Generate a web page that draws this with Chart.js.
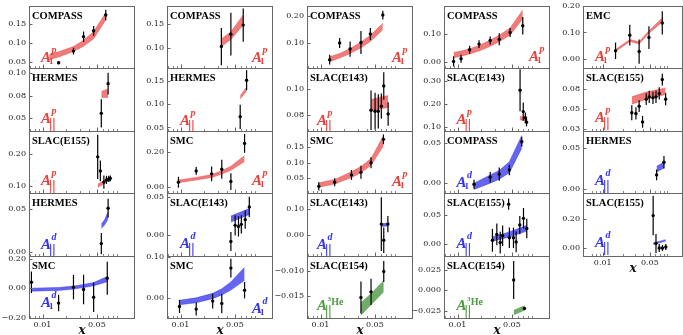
<!DOCTYPE html>
<html><head><meta charset="utf-8">
<script src="https://cdn.jsdelivr.net/npm/chart.js@4/dist/chart.umd.min.js"></script>
<style>
html,body{margin:0;padding:0;background:#fff;overflow:hidden}
#wrap{position:relative;width:683px;height:335px;overflow:hidden;background:#fff}
#wrap canvas{position:absolute}
</style>
</head><body><div id="wrap"></div>
<script>
// ---------- x axis ----------
const xTickVals = [0.01, 0.05];
const xTickLabels = ['0.01', '0.05'];
const xMinorVals = [0.007, 0.008, 0.009, 0.02, 0.03, 0.04, 0.06, 0.07, 0.08, 0.09];
const xTitle = 'x';
const xRangeMain = [0.0067, 0.15];
const xRangeLast = [0.0051, 0.15];

// ---------- column 1 ----------
const c1r1_x = [0.0161, 0.025, 0.0337, 0.0454, 0.065];
const c1r1_y = [0.047, 0.078, 0.116, 0.132, 0.174];
const c1r1_err = [0.004, 0.009, 0.014, 0.013, 0.014];
const c1r1_bx = [0.0122, 0.0161, 0.025, 0.0337, 0.0454, 0.065];
const c1r1_lo = [0.055, 0.062, 0.077, 0.091, 0.111, 0.161];
const c1r1_hi = [0.070, 0.076, 0.090, 0.107, 0.130, 0.180];
const c1r1_yt = [0.05, 0.10, 0.15];
const c1r1_ytl = ['0.05', '0.10', '0.15'];
const c1r1_yr = [0.033, 0.198];

const c1r2_x = [0.057, 0.0697];
const c1r2_y = [0.0556, 0.0886];
const c1r2_err = [0.0158, 0.012];
const c1r2_bx = [0.057, 0.0697];
const c1r2_lo = [0.0733, 0.0733];
const c1r2_hi = [0.080, 0.0827];
const c1r2_yt = [0.05, 0.075, 0.10];
const c1r2_ytl = ['0.05', '0.08', '0.10'];
const c1r2_yr = [0.036, 0.106];

const c1r3_x = [0.0512, 0.0554, 0.0615, 0.0664, 0.071, 0.0744];
const c1r3_y = [0.192, 0.147, 0.111, 0.118, 0.121, 0.123];
const c1r3_err = [0.071, 0.033, 0.021, 0.013, 0.010, 0.009];
const c1r3_bx = [0.0512, 0.0744];
const c1r3_lo = [0.094, 0.118];
const c1r3_hi = [0.104, 0.128];
const c1r3_yt = [0.10, 0.20];
const c1r3_ytl = ['0.10', '0.20'];
const c1r3_yr = [0.076, 0.275];

const c1r4_x = [0.057, 0.0697];
const c1r4_y = [0.0099, 0.0512];
const c1r4_err = [0.0124, 0.011];
const c1r4_bx = [0.057, 0.063, 0.0697];
const c1r4_lo = [0.0275, 0.032, 0.0385];
const c1r4_hi = [0.0325, 0.038, 0.047];
const c1r4_yt = [0.00, 0.05];
const c1r4_ytl = ['0.00', '0.05'];
const c1r4_yr = [-0.0046, 0.069];

const c1r5_x = [0.0072, 0.0161, 0.025, 0.0337, 0.0454, 0.068];
const c1r5_y = [0.04, -0.101, 0.007, -0.009, -0.061, 0.067];
const c1r5_err = [0.073, 0.056, 0.083, 0.10, 0.10, 0.112];
const c1r5_bx = [0.0072, 0.0161, 0.025, 0.0337, 0.0454, 0.068];
const c1r5_lo = [-0.02, -0.015, -0.006, 0.004, 0.016, 0.044];
const c1r5_hi = [0.0, 0.005, 0.014, 0.025, 0.038, 0.079];
const c1r5_yt = [-0.20, 0.00, 0.20];
const c1r5_ytl = ['\u22120.20', '0.00', '0.20'];
const c1r5_yr = [-0.202, 0.218];

// ---------- column 2 ----------
const c2r1_x = [0.0335, 0.0444, 0.064];
const c2r1_y = [0.103, 0.129, 0.148];
const c2r1_err = [0.039, 0.045, 0.035];
const c2r1_bx = [0.0335, 0.0444, 0.064];
const c2r1_lo = [0.103, 0.118, 0.148];
const c2r1_hi = [0.119, 0.134, 0.169];
const c2r1_yt = [0.10, 0.15];
const c2r1_ytl = ['0.10', '0.15'];
const c2r1_yr = [0.058, 0.188];

const c2r2_x = [0.0585, 0.0707];
const c2r2_y = [0.0728, 0.151];
const c2r2_err = [0.026, 0.0215];
const c2r2_bx = [0.0585, 0.0707];
const c2r2_lo = [0.111, 0.128];
const c2r2_hi = [0.118, 0.136];
const c2r2_yt = [0.05, 0.10, 0.15];
const c2r2_ytl = ['0.05', '0.10', '0.15'];
const c2r2_yr = [0.0425, 0.177];

const c2r3_x = [0.0094, 0.0159, 0.0251, 0.0339, 0.0444, 0.0666];
const c2r3_y = [0.028, 0.0916, 0.075, 0.101, 0.0315, 0.247];
const c2r3_err = [0.031, 0.022, 0.042, 0.053, 0.047, 0.053];
const c2r3_bx = [0.0094, 0.0159, 0.0251, 0.0339, 0.0444, 0.0666];
const c2r3_lo = [0.025, 0.040, 0.055, 0.074, 0.095, 0.145];
const c2r3_hi = [0.040, 0.055, 0.072, 0.093, 0.118, 0.178];
const c2r3_yt = [0.00, 0.20];
const c2r3_ytl = ['0.00', '0.20'];
const c2r3_yr = [-0.033, 0.317];

const c2r4_x = [0.0444, 0.0504, 0.0556, 0.0605, 0.0679, 0.0766];
const c2r4_y = [-0.0089, 0.0124, 0.011, 0.0137, 0.0199, 0.0367];
const c2r4_err = [0.0124, 0.0133, 0.0133, 0.012, 0.012, 0.0133];
const c2r4_bx = [0.0444, 0.0766];
const c2r4_lo = [0.0167, 0.0266];
const c2r4_hi = [0.0247, 0.0346];
const c2r4_yt = [0.00, 0.05];
const c2r4_ytl = ['0.00', '0.05'];
const c2r4_yr = [-0.028, 0.055];

const c2r5_x = [0.0097, 0.0159, 0.0259, 0.0339, 0.0444, 0.0666];
const c2r5_y = [-0.0212, -0.0276, -0.008, -0.0137, 0.073, 0.0188];
const c2r5_err = [0.016, 0.016, 0.018, 0.024, 0.023, 0.02];
const c2r5_bx = [0.0097, 0.0159, 0.0259, 0.0339, 0.0444, 0.0666];
const c2r5_lo = [-0.017, -0.012, -0.002, 0.007, 0.019, 0.043];
const c2r5_hi = [-0.006, 0.0, 0.011, 0.022, 0.039, 0.075];
const c2r5_yt = [0.00, 0.10];
const c2r5_ytl = ['0.00', '0.10'];
const c2r5_yr = [-0.0495, 0.1027];

// ---------- column 3 ----------
const c3r1_x = [0.0131, 0.0176, 0.024, 0.0331, 0.0437, 0.0632];
const c3r1_y = [0.0395, 0.10, 0.078, 0.102, 0.133, 0.202];
const c3r1_err = [0.018, 0.018, 0.028, 0.042, 0.022, 0.016];
const c3r1_bx = [0.0131, 0.0176, 0.024, 0.0331, 0.0437, 0.0632];
const c3r1_lo = [0.032, 0.045, 0.062, 0.083, 0.106, 0.148];
const c3r1_hi = [0.050, 0.062, 0.080, 0.104, 0.128, 0.172];
const c3r1_yt = [0.10, 0.20];
const c3r1_ytl = ['0.10', '0.20'];
const c3r1_yr = [0.009, 0.235];

const c3r2_x = [0.0446, 0.0503, 0.0553, 0.0605, 0.065, 0.074];
const c3r2_y = [0.0838, 0.0831, 0.083, 0.0869, 0.1023, 0.081];
const c3r2_err = [0.015, 0.014, 0.013, 0.0096, 0.0105, 0.009];
const c3r2_bx = [0.0446, 0.0605, 0.074];
const c3r2_lo = [0.083, 0.085, 0.086];
const c3r2_hi = [0.092, 0.094, 0.095];
const c3r2_yt = [0.08, 0.10];
const c3r2_ytl = ['0.08', '0.10'];
const c3r2_yr = [0.068, 0.116];

const c3r3_x = [0.0095, 0.0152, 0.025, 0.0331, 0.0446, 0.0644];
const c3r3_y = [0.0235, 0.037, 0.0607, 0.069, 0.10, 0.176];
const c3r3_err = [0.013, 0.013, 0.016, 0.021, 0.018, 0.016];
const c3r3_bx = [0.0095, 0.0152, 0.025, 0.0331, 0.0446, 0.0644];
const c3r3_lo = [0.021, 0.031, 0.052, 0.068, 0.092, 0.155];
const c3r3_hi = [0.035, 0.046, 0.071, 0.088, 0.114, 0.188];
const c3r3_yt = [0.05, 0.10, 0.15];
const c3r3_ytl = ['0.05', '0.10', '0.15'];
const c3r3_yr = [0.002, 0.203];

const c3r4_x = [0.0605, 0.065, 0.0735];
const c3r4_y = [0.043, -0.0195, 0.043];
const c3r4_err = [0.104, 0.049, 0.031];
const c3r4_bx = [0.0605, 0.0735];
const c3r4_lo = [0.034, 0.036];
const c3r4_hi = [0.044, 0.047];
const c3r4_yt = [0.00, 0.10];
const c3r4_ytl = ['0.00', '0.10'];
const c3r4_yr = [-0.08, 0.163];

const c3r5_x = [0.0331, 0.0446, 0.065];
const c3r5_y = [-0.01526, -0.01414, -0.0101];
const c3r5_err = [0.0032, 0.0026, 0.0021];
const c3r5_bx = [0.0331, 0.0446, 0.065];
const c3r5_lo = [-0.0188, -0.0167, -0.0141];
const c3r5_hi = [-0.0163, -0.0145, -0.0119];
const c3r5_yt = [-0.015, -0.010];
const c3r5_ytl = ['\u22120.015', '\u22120.010'];
const c3r5_yr = [-0.01935, -0.007];

// ---------- column 4 ----------
const c4r1_x = [0.0089, 0.0111, 0.0143, 0.0189, 0.0263, 0.0344, 0.0474, 0.069];
const c4r1_y = [0.0035, 0.013, 0.0447, 0.0648, 0.0775, 0.082, 0.106, 0.13];
const c4r1_err = [0.018, 0.014, 0.014, 0.014, 0.014, 0.021, 0.016, 0.031];
const c4r1_bx = [0.0089, 0.0111, 0.0143, 0.0189, 0.0263, 0.0344, 0.0474, 0.069];
const c4r1_lo = [0.016, 0.022, 0.030, 0.040, 0.057, 0.073, 0.097, 0.155];
const c4r1_hi = [0.035, 0.040, 0.048, 0.060, 0.079, 0.096, 0.122, 0.186];
const c4r1_yt = [0.00, 0.10];
const c4r1_ytl = ['0.00', '0.10'];
const c4r1_yr = [-0.02, 0.20];

const c4r2_x = [0.0637, 0.070, 0.0745, 0.0771];
const c4r2_y = [0.259, 0.166, 0.14, 0.12];
const c4r2_err = [0.091, 0.04, 0.022, 0.018];
const c4r2_bx = [0.0637, 0.0745];
const c4r2_lo = [0.130, 0.128];
const c4r2_hi = [0.145, 0.143];
const c4r2_yt = [0.10, 0.20, 0.30];
const c4r2_ytl = ['0.10', '0.20', '0.30'];
const c4r2_yr = [0.082, 0.355];

const c4r3_x = [0.0163, 0.0263, 0.0344, 0.0464, 0.067];
const c4r3_y = [-0.0013, 0.0075, 0.0113, 0.0166, 0.052];
const c4r3_err = [0.0056, 0.0066, 0.0083, 0.0066, 0.0063];
const c4r3_bx = [0.0163, 0.0263, 0.0344, 0.0464, 0.067];
const c4r3_lo = [-0.008, 0.0, 0.005, 0.013, 0.044];
const c4r3_hi = [0.0, 0.0104, 0.016, 0.027, 0.060];
const c4r3_yt = [0.00, 0.05];
const c4r3_ytl = ['0.00', '0.05'];
const c4r3_yr = [-0.0124, 0.0656];

const c4r4_x = [0.0281, 0.032, 0.0354, 0.038, 0.0454, 0.0464, 0.0524, 0.0567, 0.0632, 0.0705, 0.0777];
const c4r4_y = [0.0058, 0.016, 0.0018, 0.0136, 0.069, 0.0101, 0.0101, 0.003, 0.0324, 0.0442, 0.0265];
const c4r4_err = [0.02, 0.019, 0.019, 0.018, 0.0097, 0.018, 0.018, 0.018, 0.016, 0.018, 0.017];
const c4r4_bx = [0.0281, 0.0454, 0.0777];
const c4r4_lo = [0.004, 0.011, 0.022];
const c4r4_hi = [0.012, 0.020, 0.032];
const c4r4_yt = [0.00, 0.05];
const c4r4_ytl = ['0.00', '0.05'];
const c4r4_yr = [-0.0217, 0.0885];

const c4r5_x = [0.0527, 0.0725];
const c4r5_y = [0.0124, -0.0222];
const c4r5_err = [0.023, 0.002];
const c4r5_bx = [0.0527, 0.0725];
const c4r5_lo = [-0.030, -0.0245];
const c4r5_hi = [-0.0245, -0.019];
const c4r5_yt = [-0.025, 0.0, 0.025];
const c4r5_ytl = ['\u22120.025', '0.000', '0.025'];
const c4r5_yr = [-0.0338, 0.0415];

// ---------- column 5 ----------
const c5r1_x = [0.0155, 0.0252, 0.0347, 0.0485, 0.0765];
const c5r1_y = [0.031, 0.09, 0.028, 0.081, 0.136];
const c5r1_err = [0.031, 0.039, 0.046, 0.043, 0.044];
const c5r1_bx = [0.0155, 0.0252, 0.0347, 0.0485, 0.0765];
const c5r1_lo = [0.028, 0.066, 0.057, 0.097, 0.140];
const c5r1_hi = [0.036, 0.074, 0.065, 0.107, 0.155];
const c5r1_yt = [0.00, 0.10, 0.20];
const c5r1_ytl = ['0.00', '0.10', '0.20'];
const c5r1_yr = [-0.034, 0.20];

const c5r2_x = [0.027, 0.0311, 0.0347, 0.039, 0.0442, 0.049, 0.0556, 0.0617, 0.0689, 0.0765, 0.0858];
const c5r2_y = [0.0454, 0.0446, 0.0536, 0.0342, 0.0622, 0.065, 0.0638, 0.065, 0.0692, 0.0863, 0.0622];
const c5r2_err = [0.0093, 0.0075, 0.0072, 0.0072, 0.0072, 0.0075, 0.0075, 0.0075, 0.0075, 0.0072, 0.0075];
const c5r2_bx = [0.027, 0.0442, 0.0858];
const c5r2_lo = [0.056, 0.062, 0.068];
const c5r2_hi = [0.065, 0.071, 0.076];
const c5r2_yt = [0.025, 0.05, 0.075];
const c5r2_ytl = ['0.03', '0.05', '0.08'];
const c5r2_yr = [0.023, 0.1005];

const c5r3_x = [0.063, 0.081];
const c5r3_y = [0.0174, 0.0329];
const c5r3_err = [0.0067, 0.0077];
const c5r3_bx = [0.063, 0.081];
const c5r3_lo = [0.021, 0.026];
const c5r3_hi = [0.028, 0.033];
const c5r3_yt = [0.00, 0.05];
const c5r3_ytl = ['0.00', '0.05'];
const c5r3_yr = [-0.0048, 0.0713];

const c5r4_x = [0.056, 0.0617, 0.0689, 0.077, 0.0862];
const c5r4_y = [0.224, 0.031, 0.0, 0.0, 0.007];
const c5r4_err = [0.136, 0.066, 0.028, 0.021, 0.021];
const c5r4_bx = [0.056, 0.0862];
const c5r4_lo = [0.025, 0.048];
const c5r4_hi = [0.035, 0.058];
const c5r4_yt = [0.00, 0.20];
const c5r4_ytl = ['0.00', '0.20'];
const c5r4_yr = [-0.055, 0.38];

// ---------- styles & layout ----------
const COLORS = {
  p:  {text: '#e8413b', band: 'rgba(232,60,60,0.68)'},
  d:  {text: '#3434ee', band: 'rgba(50,50,235,0.75)'},
  He: {text: '#4a9a3e', band: 'rgba(60,140,50,0.72)'}
};
const colL = [29, 167, 307, 444, 583];
const colR = [134, 272, 412, 549, 682];
const rowT = [6, 68, 131, 193, 256];
const rowB = [68, 131, 193, 256, 318];
const labelDx = [12, 13, 10, 12.5, 12];
const FRAME = '#666';
const M = 10, XH = 17;

function P(col, row, exp, kind, target, side, dy, x, y, err, bx, lo, hi, yt, ytl, yr) {
  return {col, row, exp, kind, target, side, dy, x, y, err, bx, lo, hi, yt, ytl, yr};
}
const panels = [
  P(0,0,'COMPASS','1','p','l',6.5, c1r1_x,c1r1_y,c1r1_err,c1r1_bx,c1r1_lo,c1r1_hi,c1r1_yt,c1r1_ytl,c1r1_yr),
  P(0,1,'HERMES','par','p','l',8, c1r2_x,c1r2_y,c1r2_err,c1r2_bx,c1r2_lo,c1r2_hi,c1r2_yt,c1r2_ytl,c1r2_yr),
  P(0,2,'SLAC(E155)','par','p','l',8, c1r3_x,c1r3_y,c1r3_err,c1r3_bx,c1r3_lo,c1r3_hi,c1r3_yt,c1r3_ytl,c1r3_yr),
  P(0,3,'HERMES','par','d','l',6.6, c1r4_x,c1r4_y,c1r4_err,c1r4_bx,c1r4_lo,c1r4_hi,c1r4_yt,c1r4_ytl,c1r4_yr),
  P(0,4,'SMC','1','d','l',11, c1r5_x,c1r5_y,c1r5_err,c1r5_bx,c1r5_lo,c1r5_hi,c1r5_yt,c1r5_ytl,c1r5_yr),
  P(1,0,'COMPASS','1','p','r',6.5, c2r1_x,c2r1_y,c2r1_err,c2r1_bx,c2r1_lo,c2r1_hi,c2r1_yt,c2r1_ytl,c2r1_yr),
  P(1,1,'HERMES','par','p','l',6, c2r2_x,c2r2_y,c2r2_err,c2r2_bx,c2r2_lo,c2r2_hi,c2r2_yt,c2r2_ytl,c2r2_yr),
  P(1,2,'SMC','1','p','r',8, c2r3_x,c2r3_y,c2r3_err,c2r3_bx,c2r3_lo,c2r3_hi,c2r3_yt,c2r3_ytl,c2r3_yr),
  P(1,3,'SLAC(E143)','par','d','l',8, c2r4_x,c2r4_y,c2r4_err,c2r4_bx,c2r4_lo,c2r4_hi,c2r4_yt,c2r4_ytl,c2r4_yr),
  P(1,4,'SMC','1','d','r',5, c2r5_x,c2r5_y,c2r5_err,c2r5_bx,c2r5_lo,c2r5_hi,c2r5_yt,c2r5_ytl,c2r5_yr),
  P(2,0,'COMPASS','1','p','r',6, c3r1_x,c3r1_y,c3r1_err,c3r1_bx,c3r1_lo,c3r1_hi,c3r1_yt,c3r1_ytl,c3r1_yr),
  P(2,1,'SLAC(E143)','par','p','l',6, c3r2_x,c3r2_y,c3r2_err,c3r2_bx,c3r2_lo,c3r2_hi,c3r2_yt,c3r2_ytl,c3r2_yr),
  P(2,2,'SMC','1','p','r',7, c3r3_x,c3r3_y,c3r3_err,c3r3_bx,c3r3_lo,c3r3_hi,c3r3_yt,c3r3_ytl,c3r3_yr),
  P(2,3,'SLAC(E143)','par','d','l',7.3, c3r4_x,c3r4_y,c3r4_err,c3r4_bx,c3r4_lo,c3r4_hi,c3r4_yt,c3r4_ytl,c3r4_yr),
  P(2,4,'SLAC(E154)','par','He','l',8, c3r5_x,c3r5_y,c3r5_err,c3r5_bx,c3r5_lo,c3r5_hi,c3r5_yt,c3r5_ytl,c3r5_yr),
  P(3,0,'COMPASS','1','p','r',6.7, c4r1_x,c4r1_y,c4r1_err,c4r1_bx,c4r1_lo,c4r1_hi,c4r1_yt,c4r1_ytl,c4r1_yr),
  P(3,1,'SLAC(E143)','par','p','l',7.5, c4r2_x,c4r2_y,c4r2_err,c4r2_bx,c4r2_lo,c4r2_hi,c4r2_yt,c4r2_ytl,c4r2_yr),
  P(3,2,'COMPASS','1','d','l',6.5, c4r3_x,c4r3_y,c4r3_err,c4r3_bx,c4r3_lo,c4r3_hi,c4r3_yt,c4r3_ytl,c4r3_yr),
  P(3,3,'SLAC(E155)','par','d','l',8, c4r4_x,c4r4_y,c4r4_err,c4r4_bx,c4r4_lo,c4r4_hi,c4r4_yt,c4r4_ytl,c4r4_yr),
  P(3,4,'SLAC(E154)','par','He','l',8, c4r5_x,c4r5_y,c4r5_err,c4r5_bx,c4r5_lo,c4r5_hi,c4r5_yt,c4r5_ytl,c4r5_yr),
  P(4,0,'EMC','1','p','l',6.7, c5r1_x,c5r1_y,c5r1_err,c5r1_bx,c5r1_lo,c5r1_hi,c5r1_yt,c5r1_ytl,c5r1_yr),
  P(4,1,'SLAC(E155)','par','p','l',9, c5r2_x,c5r2_y,c5r2_err,c5r2_bx,c5r2_lo,c5r2_hi,c5r2_yt,c5r2_ytl,c5r2_yr),
  P(4,2,'HERMES','par','d','l',8, c5r3_x,c5r3_y,c5r3_err,c5r3_bx,c5r3_lo,c5r3_hi,c5r3_yt,c5r3_ytl,c5r3_yr),
  P(4,3,'SLAC(E155)','par','d','l',9, c5r4_x,c5r4_y,c5r4_err,c5r4_bx,c5r4_lo,c5r4_hi,c5r4_yt,c5r4_ytl,c5r4_yr)
];

function clipTo(ctx, a) {
  ctx.beginPath();
  ctx.rect(a.left, a.top, a.right - a.left, a.bottom - a.top);
  ctx.clip();
}

function drawObs(ctx, a, p) {
  const col = COLORS[p.target];
  ctx.save();
  clipTo(ctx, a);
  ctx.fillStyle = col.text;
  ctx.textAlign = 'left';
  ctx.textBaseline = 'alphabetic';
  const base = a.bottom - p.dy;
  ctx.font = 'italic bold 15px "Liberation Serif"';
  const wA = ctx.measureText('A').width;
  const x0 = p.side === 'l' ? a.left + labelDx[p.col] : a.right - 20;
  ctx.fillText('A', x0, base);
  const xs = x0 + wA + 0.5;
  if (p.target === 'He') {
    ctx.font = 'bold 7px "Liberation Serif"';
    ctx.fillText('3', xs, base - 9);
    const w3 = ctx.measureText('3').width;
    ctx.font = 'bold 10px "Liberation Serif"';
    ctx.fillText('He', xs + w3 + 0.3, base - 5);
  } else {
    ctx.font = 'italic bold 10px "Liberation Serif"';
    ctx.fillText(p.target, xs, base - 9);
  }
  const xsub = x0 + wA - 2;
  if (p.kind === '1') {
    ctx.font = 'bold 9px "Liberation Serif"';
    ctx.fillText('1', xsub, base + 2);
  } else {
    ctx.font = 'bold 15px "Liberation Serif"';
    ctx.fillText('||', xsub, base + 5);
  }
  ctx.restore();
}

const wrap = document.getElementById('wrap');

function makePanel(p) {
  const c = p.col, r = p.row;
  const isBottom = (c < 4 && r === 4) || (c === 4 && r === 3);
  const LW = c === 0 ? 29 : 36;
  const fw = colR[c] - colL[c], fh = rowB[r] - rowT[r];
  const W = LW + fw + M, H = M + fh + (isBottom ? XH : M);
  const cv = document.createElement('canvas');
  cv.width = W; cv.height = H;
  cv.style.left = (colL[c] - LW) + 'px';
  cv.style.top = (rowT[r] - M) + 'px';
  cv.style.width = W + 'px'; cv.style.height = H + 'px';
  wrap.appendChild(cv);
  const xr = c === 4 ? xRangeLast : xRangeMain;
  const colr = COLORS[p.target];

  const decor = {
    id: 'decor',
    beforeDatasetDraw(chart, args) {
      if (args.index !== 0) return;
      const {ctx, chartArea: a} = chart;
      const xs = chart.scales.x, ys = chart.scales.y;
      ctx.save();
      clipTo(ctx, a);
      ctx.strokeStyle = '#000';
      ctx.lineWidth = 1.2;
      p.x.forEach((xv, i) => {
        const px = xs.getPixelForValue(xv);
        ctx.beginPath();
        ctx.moveTo(px, ys.getPixelForValue(p.y[i] - p.err[i]));
        ctx.lineTo(px, ys.getPixelForValue(p.y[i] + p.err[i]));
        ctx.stroke();
      });
      ctx.restore();
    },
    afterDraw(chart) {
      const {ctx, chartArea: a} = chart;
      const xs = chart.scales.x, ys = chart.scales.y;
      ctx.save();
      ctx.strokeStyle = FRAME;
      ctx.lineWidth = 1;
      p.yt.forEach(v => {
        const py = Math.round(ys.getPixelForValue(v)) + 0.5;
        ctx.beginPath(); ctx.moveTo(a.left, py); ctx.lineTo(a.left + 3.5, py); ctx.stroke();
      });
      xTickVals.forEach(v => {
        const px = Math.round(xs.getPixelForValue(v)) + 0.5;
        ctx.beginPath(); ctx.moveTo(px, a.bottom); ctx.lineTo(px, a.bottom - 3.5); ctx.stroke();
      });
      ctx.lineWidth = 0.8;
      xMinorVals.forEach(v => {
        if (v <= xr[0] || v >= xr[1]) return;
        const px = Math.round(xs.getPixelForValue(v)) + 0.5;
        ctx.beginPath(); ctx.moveTo(px, a.bottom); ctx.lineTo(px, a.bottom - 2); ctx.stroke();
      });
      ctx.lineWidth = 1;
      ctx.strokeRect(a.left + 0.5, a.top + 0.5, a.right - a.left, a.bottom - a.top);
      ctx.fillStyle = '#000';
      ctx.font = 'bold 10.5px "Liberation Serif"';
      ctx.textAlign = 'left';
      ctx.textBaseline = 'alphabetic';
      ctx.fillText(p.exp, a.left + 3, a.top + 13);
      if (isBottom) {
        ctx.font = 'italic bold 12px "DejaVu Serif"';
        ctx.textAlign = 'center';
        ctx.fillStyle = '#111';
        ctx.fillText(xTitle, (a.left + a.right) / 2 + 0.5, a.bottom + 16);
      }
      ctx.restore();
      drawObs(ctx, a, p);
    }
  };

  new Chart(cv, {
    type: 'scatter',
    data: {
      datasets: [
        {
          data: p.x.map((v, i) => ({x: v, y: p.y[i]})),
          showLine: false, pointRadius: 1.7, pointHoverRadius: 0,
          pointBackgroundColor: '#000', pointBorderWidth: 0, pointBorderColor: '#000'
        },
        {
          data: p.bx.map((v, i) => ({x: v, y: p.lo[i]})),
          showLine: true, borderWidth: 0.6, borderColor: colr.band, pointRadius: 0, fill: false
        },
        {
          data: p.bx.map((v, i) => ({x: v, y: p.hi[i]})),
          showLine: true, borderWidth: 0.6, borderColor: colr.band, pointRadius: 0,
          fill: '-1', backgroundColor: colr.band
        }
      ]
    },
    options: {
      responsive: false, animation: false, devicePixelRatio: 1,
      events: [],
      layout: {padding: {left: 0, top: M, right: M, bottom: isBottom ? 0 : M}},
      plugins: {legend: {display: false}, tooltip: {enabled: false}, title: {display: false}},
      scales: {
        x: {
          type: 'logarithmic', min: xr[0], max: xr[1], display: isBottom,
          grid: {display: false, drawTicks: false}, border: {display: false},
          ticks: {font: {family: 'DejaVu Serif', size: 8}, color: '#222', padding: 2,
                  maxRotation: 0, autoSkip: false, callback: (v, i) => xTickLabels[i]},
          afterBuildTicks: s => { s.ticks = xTickVals.map(v => ({value: v})); },
          afterFit: s => { s.height = isBottom ? XH : 0; }
        },
        y: {
          type: 'linear', min: p.yr[0], max: p.yr[1],
          grid: {display: false, drawTicks: false}, border: {display: false},
          ticks: {font: {family: 'DejaVu Serif', size: 8}, color: '#222', padding: 3,
                  autoSkip: false, callback: (v, i) => p.ytl[i]},
          afterBuildTicks: s => { s.ticks = p.yt.map(v => ({value: v})); },
          afterFit: s => { s.width = LW; }
        }
      }
    },
    plugins: [decor]
  });
}

panels.forEach(makePanel);
</script>
</body></html>
